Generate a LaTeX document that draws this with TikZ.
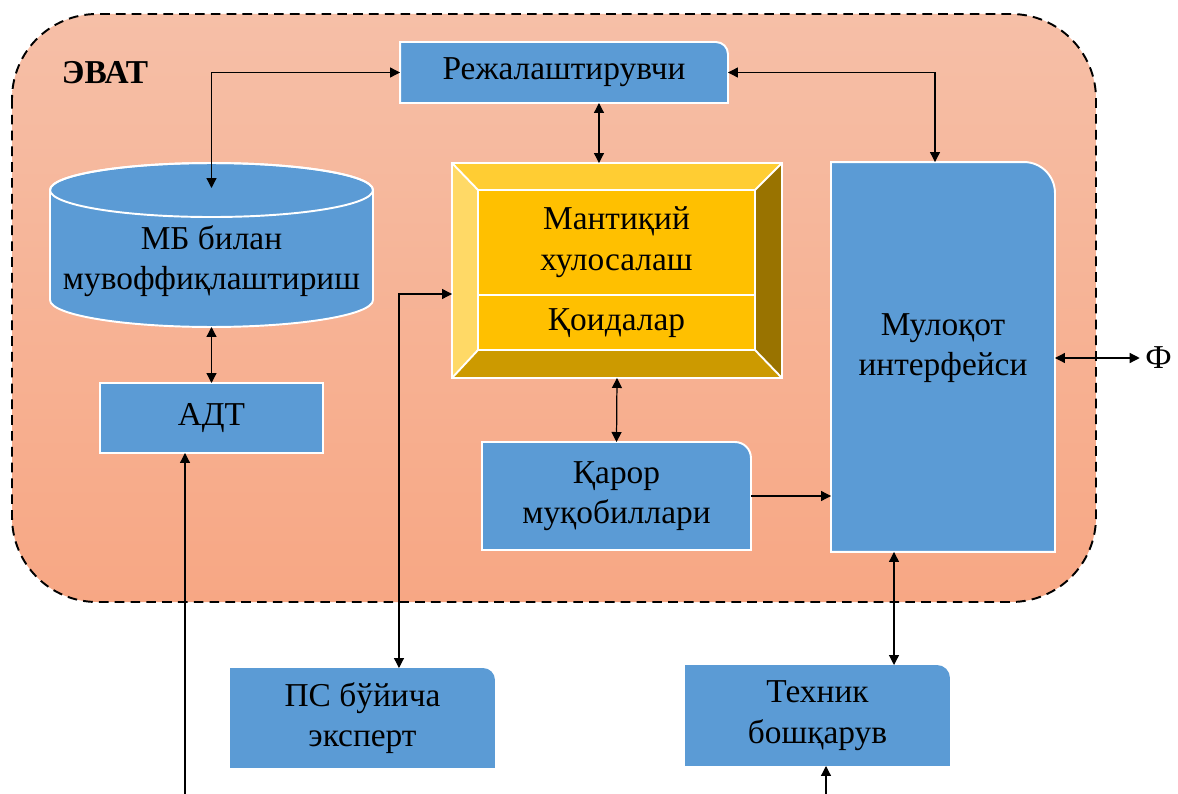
\documentclass[tikz,border=0pt]{standalone}
\usepackage{fontspec}
\setmainfont{Liberation Serif}
\usetikzlibrary{arrows.meta,calc}
\pgfdeclarelayer{bg}
\pgfdeclarelayer{shp}
\pgfsetlayers{bg,shp,main}
\definecolor{boxblue}{RGB}{91,155,213}
\definecolor{outtop}{RGB}{246,191,167}
\definecolor{outbot}{RGB}{247,167,132}
\definecolor{goldin}{RGB}{255,192,0}
\definecolor{goldtop}{RGB}{255,205,51}
\definecolor{goldleft}{RGB}{255,217,102}
\definecolor{goldright}{RGB}{153,115,0}
\definecolor{goldbot}{RGB}{204,154,0}
\begin{document}
\begin{tikzpicture}[x=0.02cm,y=-0.02cm,
  holder/.style={inner sep=0pt,outer sep=0pt,font=\fontsize{19}{23}\selectfont,align=center,text=black},
  txt/.style={inner sep=0pt,font=\fontsize{19}{23}\selectfont,align=center,text=black},
  bluefill/.style={fill=boxblue,draw=white,line width=1.1pt},
  arr/.style={line width=0.7pt,{Triangle[length=0.2cm,width=0.2cm]}-{Triangle[length=0.2cm,width=0.2cm]}},
  arrone/.style={line width=0.7pt,-{Triangle[length=0.2cm,width=0.2cm]}}]
\useasboundingbox (0,0) rectangle (1178,794);

% outer container
\begin{pgfonlayer}{bg}
\draw[top color=outtop,bottom color=outbot,draw=black,line width=1.1pt,
      dash pattern=on 5.5pt off 3.5pt,rounded corners=1.7cm] (12,14) rectangle (1096,602);
\end{pgfonlayer}
\node[txt,font=\fontsize{19}{23}\selectfont\bfseries] (evat) at (105,73) {ЭВАТ};

% nodes
\node[holder,minimum width=6.56cm,minimum height=1.22cm] (rej) at (564,72.5) {Режалаштирувчи};
\node[holder,minimum width=6.46cm,minimum height=3.28cm] (cyl) at (211.5,245) {};
\node[txt] (cylt) at (211.5,261) {МБ билан\\мувоффиқлаштириш};
\node[holder,minimum width=4.46cm,minimum height=1.4cm] (adt) at (211.5,418) {АДТ};
\node[holder,minimum width=6.6cm,minimum height=4.3cm] (gold) at (617,270.5) {};
\node[txt] (mant) at (616.5,242) {Мантиқий\\хулосалаш};
\node[txt] (qoid) at (616.5,323) {Қоидалар};
\node[holder,minimum width=5.38cm,minimum height=2.16cm] (qaror) at (616.5,496) {Қарор\\муқобиллари};
\node[holder,minimum width=4.48cm,minimum height=7.8cm] (mul) at (943,357) {};
\node[txt] (mult) at (943,348) {Мулоқот\\интерфейси};
\node[holder,minimum width=5.3cm,minimum height=2cm] (ps) at (362.5,718) {ПС бўйича\\эксперт};
\node[holder,minimum width=5.3cm,minimum height=2.02cm] (tex) at (817.5,715.5) {Техник\\бошқарув};
\node[txt,anchor=west] (f) at (1145,358) {Ф};

% shapes
\begin{pgfonlayer}{shp}
\path[bluefill] (rej.south west) -- (rej.north west) -- ([xshift=-0.24cm]rej.north east)
  arc[start angle=90,end angle=0,radius=0.24cm] -- (rej.south east) -- cycle;
\path[bluefill] (adt.south west) rectangle (adt.north east);
\path[bluefill] (qaror.south west) -- (qaror.north west) -- ([xshift=-0.32cm]qaror.north east)
  arc[start angle=90,end angle=0,radius=0.32cm] -- (qaror.south east) -- cycle;
\path[bluefill] (mul.south west) -- (mul.north west) -- ([xshift=-0.62cm]mul.north east)
  arc[start angle=90,end angle=0,radius=0.62cm] -- (mul.south east) -- cycle;
\path[fill=boxblue] (ps.south west) -- (ps.north west) -- ([xshift=-0.24cm]ps.north east)
  arc[start angle=90,end angle=0,radius=0.24cm] -- (ps.south east) -- cycle;
\path[fill=boxblue] (tex.south west) -- (tex.north west) -- ([xshift=-0.26cm]tex.north east)
  arc[start angle=90,end angle=0,radius=0.26cm] -- (tex.south east) -- cycle;
% cylinder
\path[bluefill] ($(cyl.north west)+(0,27)$) -- ($(cyl.south west)+(0,-27)$)
  arc[start angle=180,end angle=360,x radius=3.23cm,y radius=0.54cm]
  -- ($(cyl.north east)+(0,27)$)
  arc[start angle=0,end angle=180,x radius=3.23cm,y radius=0.54cm] -- cycle;
\draw[white,line width=1.1pt] ($(cyl.north)+(0,27)$) ellipse[x radius=3.23cm,y radius=0.54cm];
% gold bevel box
\coordinate (iNW) at ($(gold.north west)+(26,27)$);
\coordinate (iNE) at ($(gold.north east)+(-27,27)$);
\coordinate (iSE) at ($(gold.south east)+(-27,-28)$);
\coordinate (iSW) at ($(gold.south west)+(26,-28)$);
\fill[goldtop] (gold.north west) -- (gold.north east) -- (iNE) -- (iNW) -- cycle;
\fill[goldleft] (gold.north west) -- (iNW) -- (iSW) -- (gold.south west) -- cycle;
\fill[goldright] (gold.north east) -- (gold.south east) -- (iSE) -- (iNE) -- cycle;
\fill[goldbot] (gold.south west) -- (iSW) -- (iSE) -- (gold.south east) -- cycle;
\fill[goldin] (iNW) rectangle (iSE);
\begin{scope}[draw=white,line width=1.1pt]
\draw (gold.north west) rectangle (gold.south east);
\draw (iNW) rectangle (iSE);
\draw (gold.north west) -- (iNW) (gold.north east) -- (iNE)
      (gold.south east) -- (iSE) (gold.south west) -- (iSW);
\draw ($(iNW)!0.656!(iSW)$) -- ($(iNE)!0.656!(iSE)$);
\end{scope}
\end{pgfonlayer}

% connectors
\draw[arr] (rej.west) -| ([yshift=-0.5cm]cyl.north);
\draw[arr] (rej.east) -| ([xshift=-0.16cm]mul.north);
\draw[arr] ([xshift=0.7cm]rej.south) -- ([xshift=0.7cm]rej.south |- gold.north);
\draw[arr] (cyl.south) -- (adt.north);
\coordinate (adtin) at (185,794);
\draw[arrone] (adtin) -- (adtin |- adt.south);
\draw[arr] ([xshift=0.73cm]ps.north) |- ([yshift=-0.47cm]gold.west);
\draw[arr] (gold.south) -- (qaror.north);
\draw[arrone] (qaror.east) -- (qaror.east -| mul.west);
\draw[arr] (mul.east |- f.west) -- ([xshift=-3pt]f.west);
\draw[arr] ([xshift=-0.98cm]mul.south) -- ([xshift=-0.98cm]mul.south |- tex.north);
\coordinate (texin) at (826,794);
\draw[arrone] (texin) -- (texin |- tex.south);
\end{tikzpicture}
\end{document}
